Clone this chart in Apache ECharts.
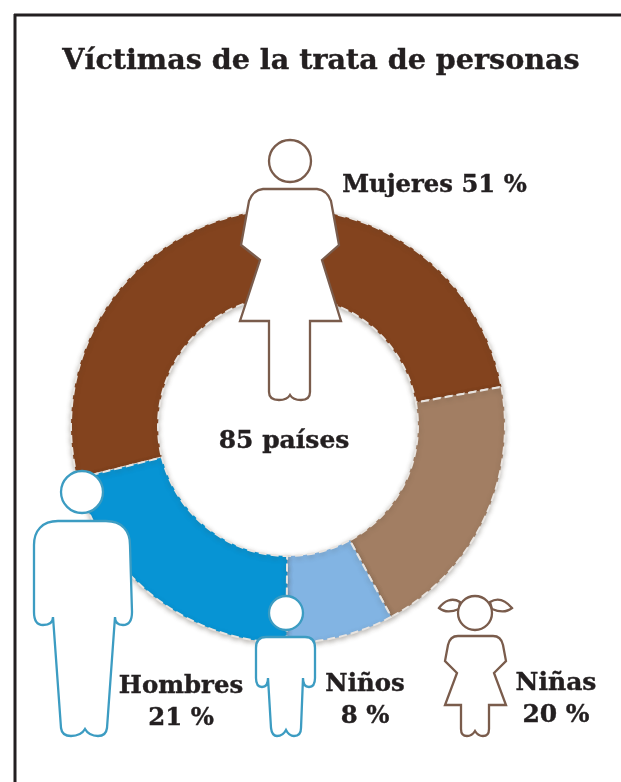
<!DOCTYPE html>
<html>
<head>
<meta charset="utf-8">
<title>Víctimas de la trata de personas</title>
<script src="https://cdn.jsdelivr.net/npm/echarts@6/dist/echarts.min.js"></script>
<style>
html, body { margin: 0; padding: 0; background: #fff; }
#chart { width: 621px; height: 782px; }
</style>
</head>
<body>
<div id="chart"></div>
<script>
var categories = ['Mujeres', 'Niñas', 'Niños', 'Hombres'];
var values = [51, 20, 8, 21];
var colors = ['#83431e', '#a27e63', '#82b4e3', '#0794d4'];
var titleText = 'Víctimas de la trata de personas';
var centerText = '85 países';

var serifFont = '"DejaVu Serif", serif';
var brownLine = '#7a5c4c';
var blueLine = '#3c9cc2';

// siluetas, solo decoracion encima del anillo
var shapes = {
    womanBody: 'M263,189 L317,189 Q327,190 331,201 L339,245 L322,260 L341,321 L310,321 L310,392 Q310,400 301,400 Q293,400 290,395 Q287,400 279,400 Q269,400 269,392 L269,321 L240,321 L260,260 L241,245 L249,201 Q253,190 263,189 Z',
    manBody: 'M58,521 L106,521 C122,521 130,531 130,545 L132,612 Q132,625 123,625 Q115,625 115,617 L107,728 Q106,736 98,736 Q89,736 85,729 Q81,736 71,736 Q62,736 61,728 L53,617 Q53,625 43,625 Q34,625 34,612 L34,545 C34,531 42,521 58,521 Z',
    boyBody: 'M266,637 L305,637 Q315,637 315,648 L315,678 Q315,687 309,687 Q303,687 303,678 L301,728 Q301,736 294,736 Q289,736 286,730 Q283,736 277,736 Q272,736 271,728 L268,678 Q268,687 262,687 Q256,687 256,678 L256,648 Q256,637 266,637 Z',
    girlBody: 'M458,636 L493,636 Q501,636 503,645 L506,661 L494,673 L506,705 L489,705 L489,729 Q489,736 483,736 Q478,736 475,731 Q472,736 467,736 Q461,736 461,729 L461,705 L445,705 L457,673 L445,661 L448,645 Q450,636 458,636 Z',
    girlTails: 'M460,602 C452,597 444,601 439,608 C445,613 452,612 459,609 Z M490,602 C498,597 506,601 512,608 C506,613 499,612 492,609 Z'
};
Object.keys(shapes).forEach(function (name) {
    echarts.graphic.registerShape(name, echarts.graphic.extendPath(shapes[name], {}));
});

function person(shapeName, cx, cy, r, line) {
    return [
        { type: shapeName, z: 10, style: { fill: '#fff', stroke: line, lineWidth: 2.3 } },
        { type: 'circle', z: 10, shape: { cx: cx, cy: cy, r: r }, style: { fill: '#fff', stroke: line, lineWidth: 2.3 } }
    ];
}

function label(text, x, y, size) {
    return {
        type: 'text', z: 20, x: x, y: y,
        style: {
            text: text, font: 'bold ' + size + 'px ' + serifFont, fill: '#231f20',
            stroke: '#231f20', lineWidth: 0.4,
            align: 'center', verticalAlign: 'middle', lineHeight: 32
        }
    };
}

var myChart = echarts.init(document.getElementById('chart'));
var option = {
    animation: false,
    backgroundColor: '#fff',
    color: colors,
    graphic: [
        { type: 'line', z: 1, shape: { x1: 14, y1: 15, x2: 621, y2: 15 }, style: { stroke: '#231f20', lineWidth: 3 } },
        { type: 'line', z: 1, shape: { x1: 15, y1: 14, x2: 15, y2: 782 }, style: { stroke: '#231f20', lineWidth: 3 } }
    ].concat(
        { type: 'girlTails', z: 9, style: { fill: '#fff', stroke: brownLine, lineWidth: 2.3 } },
        person('womanBody', 290, 161, 21, brownLine),
        person('manBody', 82, 492, 21, blueLine),
        person('boyBody', 286, 613, 17, blueLine),
        person('girlBody', 475, 613, 17, brownLine),
        [
            label(titleText, 321, 62, 28.6),
            label(centerText, 284, 441, 25),
            label(categories[0] + ' ' + values[0] + ' %', 434.5, 186, 24.3),
            label(categories[3] + '\n' + values[3] + ' %', 181, 702.5, 24.4),
            label(categories[2] + '\n' + values[2] + ' %', 365, 701, 24.4),
            label(categories[1] + '\n' + values[1] + ' %', 556, 699, 25)
        ]
    ),
    series: [
        {
            type: 'pie',
            center: [288, 426],
            radius: [130, 217],
            startAngle: 194,
            clockwise: true,
            silent: true,
            label: { show: false },
            labelLine: { show: false },
            itemStyle: {
                borderColor: '#e8e4e0',
                borderWidth: 2,
                borderType: 'dashed',
                shadowBlur: 5,
                shadowOffsetY: 2,
                shadowColor: 'rgba(70,60,50,0.35)'
            },
            data: categories.map(function (name, i) {
                return { name: name, value: values[i] };
            })
        }
    ]
};
myChart.setOption(option);
</script>
</body>
</html>
